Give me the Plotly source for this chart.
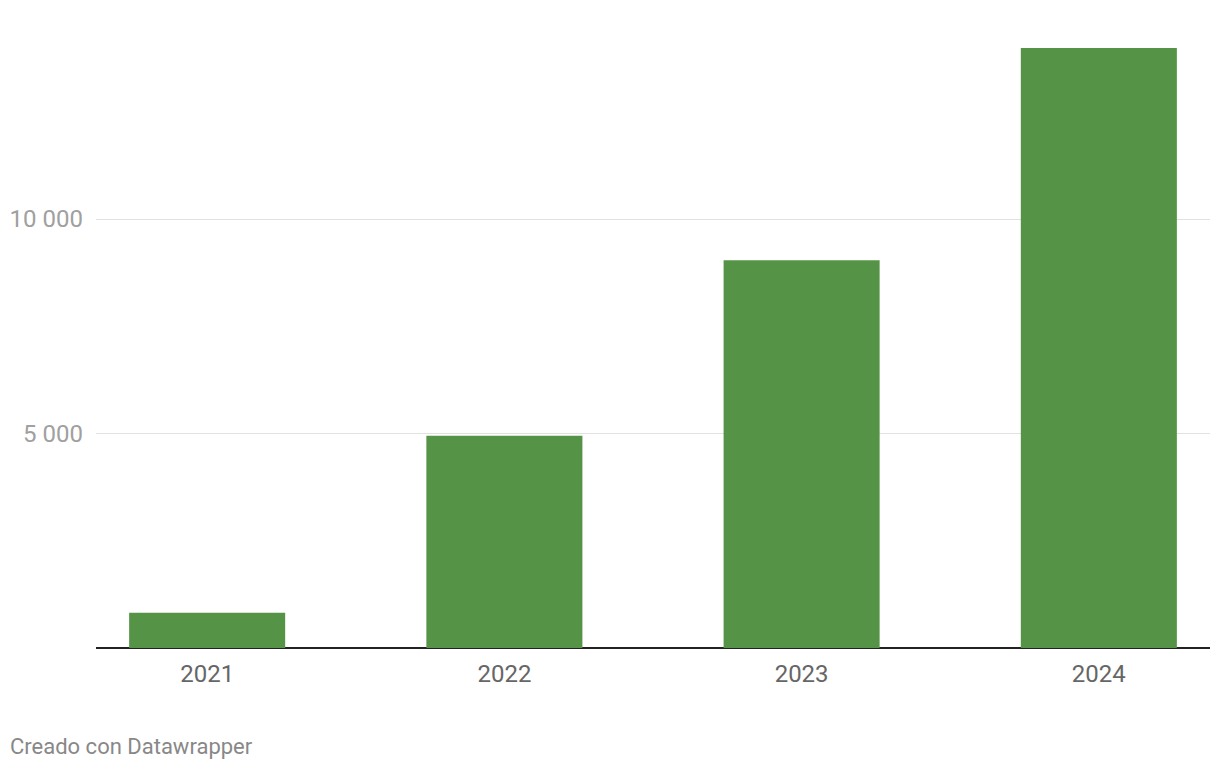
import plotly.graph_objects as go

years = ["2021", "2022", "2023", "2024"]
values = [820, 4950, 9040, 13990]
y_tickvals = [5000, 10000]
y_ticktext = ["5 000", "10 000"]
footer = "Creado con Datawrapper"

# page body has an 8px offset in the viewer
OFF = 8
W, H = 1220, 770
ml, mr, mt, mb = 96 - OFF, 10 + OFF, 20 - OFF, 122 + OFF

fig = go.Figure()
fig.add_trace(go.Bar(
    x=years, y=values,
    marker=dict(color="#559446", line=dict(width=0)),
    width=0.525,
    hoverinfo="x+y",
))

fig.update_layout(
    width=W, height=H,
    margin=dict(l=ml, r=mr, t=mt, b=mb, pad=0, autoexpand=False),
    paper_bgcolor="white", plot_bgcolor="white",
    font=dict(family="Roboto", size=24, color="#666666"),
    showlegend=False,
    xaxis=dict(
        type="category",
        range=[-0.374, 3.374],
        showgrid=False,
        zeroline=False,
        showline=False,
        ticks="",
        automargin=False,
        tickfont=dict(size=24, color="#666666"),
        ticklabelstandoff=9,
    ),
    yaxis=dict(
        range=[0, 14640],
        tickvals=y_tickvals,
        ticktext=y_ticktext,
        showgrid=True,
        gridcolor="#e1e1e1",
        gridwidth=1,
        zeroline=True,
        zerolinecolor="#222222",
        zerolinewidth=2,
        showline=False,
        ticks="",
        automargin=False,
        tickfont=dict(size=24, color="#a0a0a0"),
        ticklabelstandoff=12,
    ),
    annotations=[dict(
        text=footer,
        xref="paper", yref="paper",
        x=(8 - OFF - ml) / (W - ml - mr), y=-(746 - 648) / (H - mt - mb),
        xanchor="left", yanchor="middle",
        showarrow=False,
        font=dict(family="Roboto", size=22, color="#888888"),
    )],
)

fig.write_html("out.html")
